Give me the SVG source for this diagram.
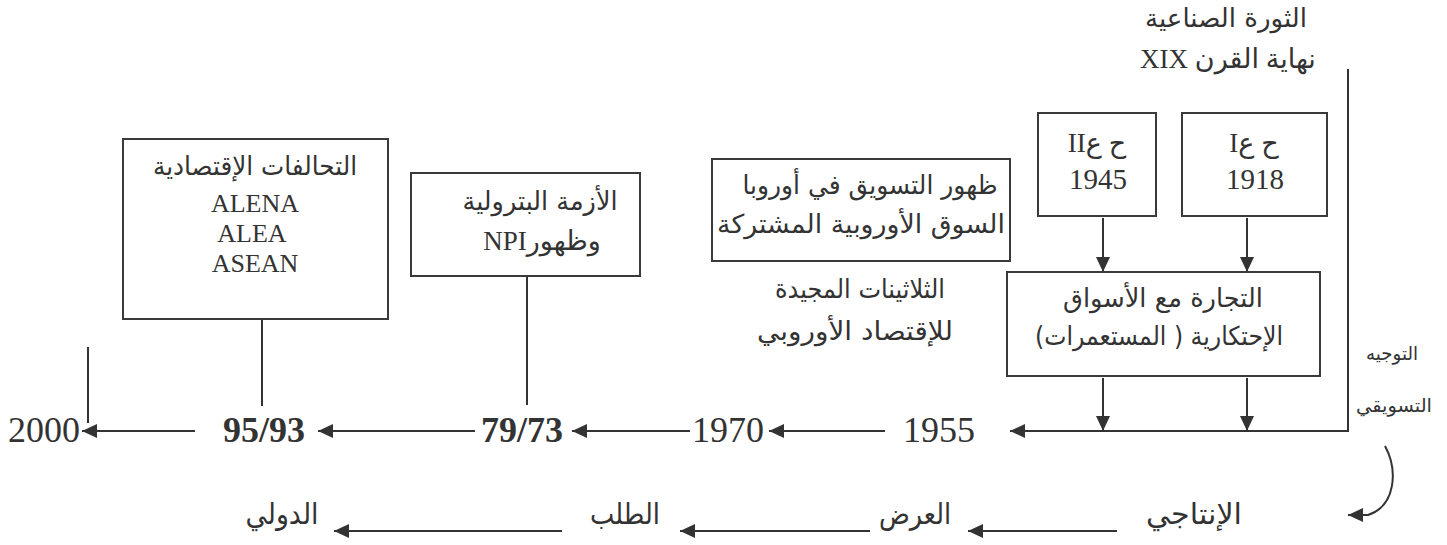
<svg xmlns="http://www.w3.org/2000/svg" width="1447" height="545" viewBox="0 0 1447 545">
  <style>
    .box { fill: #ffffff; stroke: #3a3a3a; stroke-width: 2; }
    .ln { fill: none; stroke: #333333; stroke-width: 2; }
    .arr { marker-end: url(#head); }
    text { fill: #333333; text-anchor: middle; }
    .ar { font-family: "DejaVu Sans", sans-serif; font-size: 26px; direction: rtl; }
    .mix { font-family: "Liberation Serif", "DejaVu Sans", serif; font-size: 27px; direction: rtl; }
    .lat { font-family: "Liberation Serif", serif; font-size: 26px; }
    .yr { font-family: "Liberation Serif", serif; font-size: 36px; }
    .yrb { font-family: "Liberation Serif", serif; font-size: 36px; font-weight: bold; }
    .sm { font-family: "DejaVu Sans", sans-serif; font-size: 19px; direction: rtl; }
    .st { font-family: "DejaVu Sans", sans-serif; font-size: 29px; direction: rtl; }
  </style>
  <defs>
    <marker id="head" markerUnits="userSpaceOnUse" markerWidth="16" markerHeight="14" refX="15" refY="7" orient="auto">
      <path d="M0,0 L15,7 L0,14 Z" fill="#333333"/>
    </marker>
  </defs>

  <rect width="1447" height="545" fill="#ffffff"/>

  <!-- connectors -->
  <g id="connectors">
    <!-- vertical marketing line feeding the main timeline -->
    <path class="ln arr" d="M1348,69 L1348,431 L1010,431"/>
    <!-- box drops -->
    <path class="ln arr" d="M1103,218 L1103,272"/>
    <path class="ln arr" d="M1247,218 L1247,272"/>
    <path class="ln arr" d="M1103,378 L1103,431"/>
    <path class="ln arr" d="M1247,378 L1247,431"/>
    <path class="ln" d="M262,319 L262,406"/>
    <path class="ln" d="M527,276 L527,405"/>
    <path class="ln" d="M88,347 L88,423"/>
    <!-- timeline segments -->
    <path class="ln arr" d="M195,431 L82,431"/>
    <path class="ln arr" d="M475,431 L318,431"/>
    <path class="ln arr" d="M690,431 L572,431"/>
    <path class="ln arr" d="M885,431 L769,431"/>
    <!-- curved turn-down -->
    <path class="ln arr" d="M1385,446 C1398,470 1396,506 1368,515 L1348,515"/>
    <!-- lower sequence -->
    <path class="ln arr" d="M1117,531 L968,531"/>
    <path class="ln arr" d="M870,531 L680,531"/>
    <path class="ln arr" d="M562,531 L334,531"/>
  </g>

  <!-- header -->
  <g id="industrial-revolution">
    <text class="ar" x="1226" y="27" textLength="162" lengthAdjust="spacingAndGlyphs">الثورة الصناعية</text>
    <text class="mix" x="1228" y="68">نهاية القرن XIX</text>
  </g>

  <g id="alliances">
    <rect class="box" x="123" y="139" width="265" height="180"/>
    <text class="ar" x="255" y="175" textLength="204" lengthAdjust="spacingAndGlyphs">التحالفات الإقتصادية</text>
    <text class="lat" x="255" y="212">ALENA</text>
    <text class="lat" x="252" y="242">ALEA</text>
    <text class="lat" x="255" y="272">ASEAN</text>
  </g>

  <g id="oil-crisis">
    <rect class="box" x="411" y="173" width="229" height="103"/>
    <text class="ar" x="540" y="210" textLength="155" lengthAdjust="spacingAndGlyphs">الأزمة البترولية</text>
    <text class="mix" x="542" y="250">وظهورNPI</text>
  </g>

  <g id="europe-marketing">
    <rect class="box" x="712" y="159" width="298" height="102"/>
    <text class="ar" x="870" y="194" textLength="255" lengthAdjust="spacingAndGlyphs">ظهور التسويق في أوروبا</text>
    <text class="ar" x="861" y="233" textLength="288" lengthAdjust="spacingAndGlyphs">السوق الأوروبية المشتركة</text>
  </g>

  <g id="glorious-thirty">
    <text class="ar" x="860" y="298" textLength="170" lengthAdjust="spacingAndGlyphs">الثلاثينات المجيدة</text>
    <text class="ar" x="855" y="340" textLength="196" lengthAdjust="spacingAndGlyphs">للإقتصاد الأوروبي</text>
  </g>

  <g id="ww2">
    <rect class="box" x="1038" y="113" width="118" height="103"/>
    <text class="mix" x="1097" y="152">ح عII</text>
    <text class="lat" x="1098" y="189" style="font-size:29px">1945</text>
  </g>

  <g id="ww1">
    <rect class="box" x="1182" y="113" width="145" height="103"/>
    <text class="mix" x="1254" y="152">ح عI</text>
    <text class="lat" x="1255" y="189" style="font-size:29px">1918</text>
  </g>

  <g id="colonial-trade">
    <rect class="box" x="1007" y="272" width="313" height="104"/>
    <text class="ar" x="1163" y="307" textLength="200" lengthAdjust="spacingAndGlyphs">التجارة  مع الأسواق</text>
    <text class="ar" x="1159" y="345" textLength="248" lengthAdjust="spacingAndGlyphs">الإحتكارية ( المستعمرات)</text>
  </g>

  <g id="marketing-orientation">
    <text class="sm" x="1392" y="360" textLength="52" lengthAdjust="spacingAndGlyphs">التوجيه</text>
    <text class="sm" x="1394" y="412" textLength="76" lengthAdjust="spacingAndGlyphs">التسويقي</text>
  </g>

  <!-- timeline years -->
  <g id="years">
    <text class="yr" x="44" y="442">2000</text>
    <text class="yrb" x="264" y="442">95/93</text>
    <text class="yrb" x="522" y="442">79/73</text>
    <text class="yr" x="728" y="442">1970</text>
    <text class="yr" x="939" y="442">1955</text>
  </g>

  <!-- lower sequence labels -->
  <g id="stages">
    <text class="st" x="1194" y="524" textLength="96" lengthAdjust="spacingAndGlyphs">الإنتاجي</text>
    <text class="st" x="915" y="524" textLength="72" lengthAdjust="spacingAndGlyphs">العرض</text>
    <text class="st" x="625" y="524" textLength="70" lengthAdjust="spacingAndGlyphs">الطلب</text>
    <text class="st" x="282" y="524" textLength="73" lengthAdjust="spacingAndGlyphs">الدولي</text>
  </g>
</svg>
